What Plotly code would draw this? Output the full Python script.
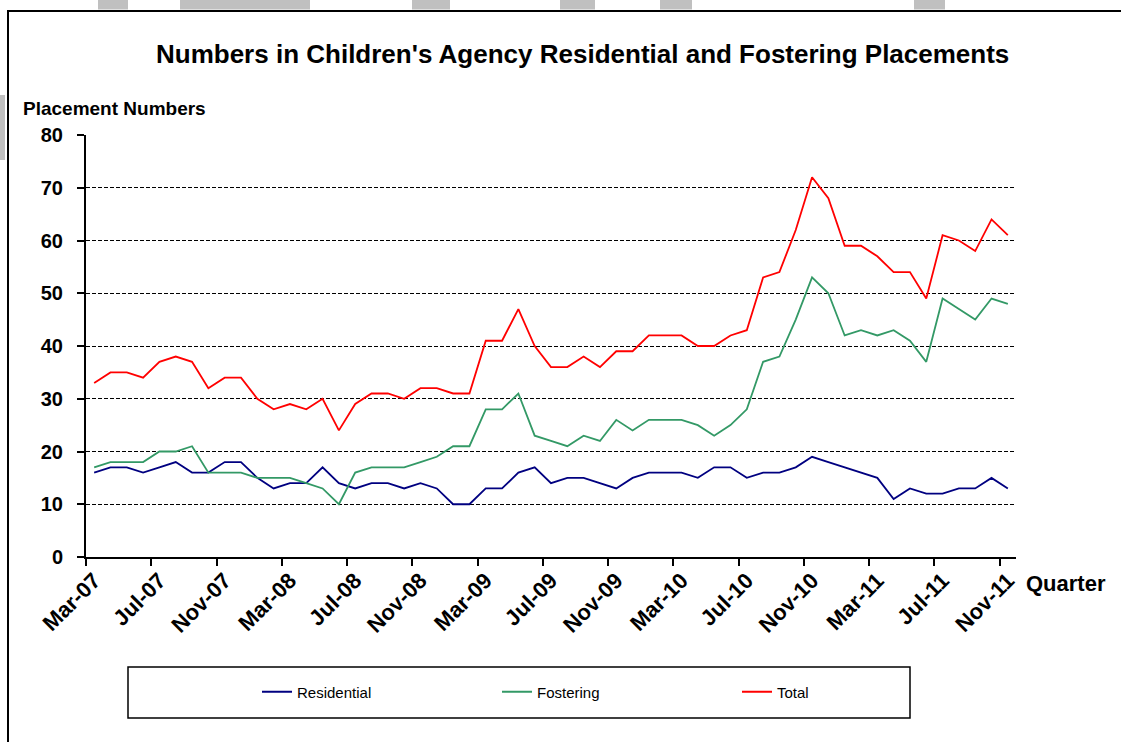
import plotly.graph_objects as go
import pandas as pd

# ---- data ----
months = [d.strftime("%b-%y") for d in pd.date_range("2007-03-01", periods=57, freq="MS")]
tick_labels = ["Mar-07", "Jul-07", "Nov-07", "Mar-08", "Jul-08", "Nov-08", "Mar-09", "Jul-09",
               "Nov-09", "Mar-10", "Jul-10", "Nov-10", "Mar-11", "Jul-11", "Nov-11"]
residential = [16, 17, 17, 16, 17, 18, 16, 16, 18, 18,
               15, 13, 14, 14, 17, 14, 13, 14, 14, 13,
               14, 13, 10, 10, 13, 13, 16, 17, 14, 15,
               15, 14, 13, 15, 16, 16, 16, 15, 17, 17,
               15, 16, 16, 17, 19, 18, 17, 16, 15, 11,
               13, 12, 12, 13, 13, 15, 13]
fostering = [17, 18, 18, 18, 20, 20, 21, 16, 16, 16,
             15, 15, 15, 14, 13, 10, 16, 17, 17, 17,
             18, 19, 21, 21, 28, 28, 31, 23, 22, 21,
             23, 22, 26, 24, 26, 26, 26, 25, 23, 25,
             28, 37, 38, 45, 53, 50, 42, 43, 42, 43,
             41, 37, 49, 47, 45, 49, 48]
total = [33, 35, 35, 34, 37, 38, 37, 32, 34, 34,
         30, 28, 29, 28, 30, 24, 29, 31, 31, 30,
         32, 32, 31, 31, 41, 41, 47, 40, 36, 36,
         38, 36, 39, 39, 42, 42, 42, 40, 40, 42,
         43, 53, 54, 62, 72, 68, 59, 59, 57, 54,
         54, 49, 61, 60, 58, 64, 61]

xi = list(range(len(months)))
tick_pos = [months.index(t) for t in tick_labels]

W, H = 1121, 742
L, R, T, B = 86, 1016, 135, 557  # plot area in pixels


def px(x):
    return (x - L) / (R - L)


def py(y):
    return (B - y) / (B - T)


FONT = "Liberation Sans, Arial, sans-serif"

fig = go.Figure()
series = [("Residential", residential, "#000080"),
          ("Fostering", fostering, "#339966"),
          ("Total", total, "#FF0000")]
for name, vals, col in series:
    fig.add_trace(go.Scatter(x=xi, y=vals, mode="lines", name=name,
                             line=dict(color=col, width=1.8),
                             text=months, hovertemplate="%{text}: %{y}<extra>" + name + "</extra>"))

fig.update_layout(
    width=W, height=H,
    margin=dict(l=L, r=W - R, t=T, b=H - B, pad=0),
    paper_bgcolor="white", plot_bgcolor="white",
    font=dict(family=FONT, color="black"),
    showlegend=True,
    legend=dict(orientation="h", x=px(257), y=py(692), xanchor="left", yanchor="middle",
                xref="paper", yref="paper",
                entrywidth=195, entrywidthmode="pixels",
                font=dict(size=15, family=FONT), bgcolor="rgba(0,0,0,0)",
                itemwidth=30),
    xaxis=dict(range=[-0.5, len(months) - 0.5], tickmode="array", tickvals=tick_pos,
               ticktext=tick_labels, tickangle=-45, ticks="",
               tickfont=dict(size=22, family=FONT, weight="bold"),
               showline=True, linecolor="black", linewidth=2, showgrid=False, zeroline=False,
               minor=dict(tickmode="linear", tick0=-0.5, dtick=4, ticks="outside",
                          ticklen=7, tickwidth=1.5, tickcolor="black", showgrid=False)),
    yaxis=dict(range=[0, 80], tickmode="linear", tick0=0, dtick=10,
               ticks="outside", ticklen=7, tickwidth=1.5, tickcolor="black",
               ticklabelstandoff=10,
               tickfont=dict(size=20, family=FONT, weight="bold"),
               showline=True, linecolor="black", linewidth=2,
               showgrid=True, gridcolor="black", gridwidth=1, griddash="4px,2px",
               zeroline=False),
)

shapes = []
# watermark fragments (light grey), drawn behind
grey = "#c0c0c0"
for x0, x1 in [(98, 128), (180, 310), (412, 450), (560, 595), (660, 692), (914, 945)]:
    shapes.append(dict(type="rect", xref="paper", yref="paper", x0=px(x0), x1=px(x1),
                       y0=py(9.5), y1=py(-2), fillcolor=grey, line=dict(width=0), layer="below"))
shapes.append(dict(type="rect", xref="paper", yref="paper", x0=px(-2), x1=px(5),
                   y0=py(160), y1=py(95), fillcolor=grey, line=dict(width=0), layer="below"))
# outer frame (top and left edges)
shapes.append(dict(type="line", xref="paper", yref="paper", x0=px(7), x1=px(1125),
                   y0=py(11), y1=py(11), line=dict(color="black", width=2)))
shapes.append(dict(type="line", xref="paper", yref="paper", x0=px(8), x1=px(8),
                   y0=py(10), y1=py(750), line=dict(color="black", width=2)))
# legend box
shapes.append(dict(type="rect", xref="paper", yref="paper", x0=px(128), x1=px(910),
                   y0=py(718), y1=py(667), line=dict(color="black", width=1.5),
                   fillcolor="rgba(0,0,0,0)"))
fig.update_layout(shapes=shapes)

fig.add_annotation(text="<b>Numbers in Children's Agency Residential and Fostering Placements</b>",
                   xref="paper", yref="paper", x=px(582), y=py(54), xanchor="center",
                   yanchor="middle", showarrow=False, font=dict(size=26, family=FONT))
fig.add_annotation(text="<b>Placement Numbers</b>", xref="paper", yref="paper",
                   x=px(21), y=py(108), xanchor="left", yanchor="middle", showarrow=False,
                   font=dict(size=19, family=FONT))
fig.add_annotation(text="<b>Quarter</b>", xref="paper", yref="paper",
                   x=px(1024), y=py(583), xanchor="left", yanchor="middle", showarrow=False,
                   font=dict(size=22, family=FONT))

fig.write_html("out.html", config={"displayModeBar": False},
               post_script="document.body.style.margin='0';")
